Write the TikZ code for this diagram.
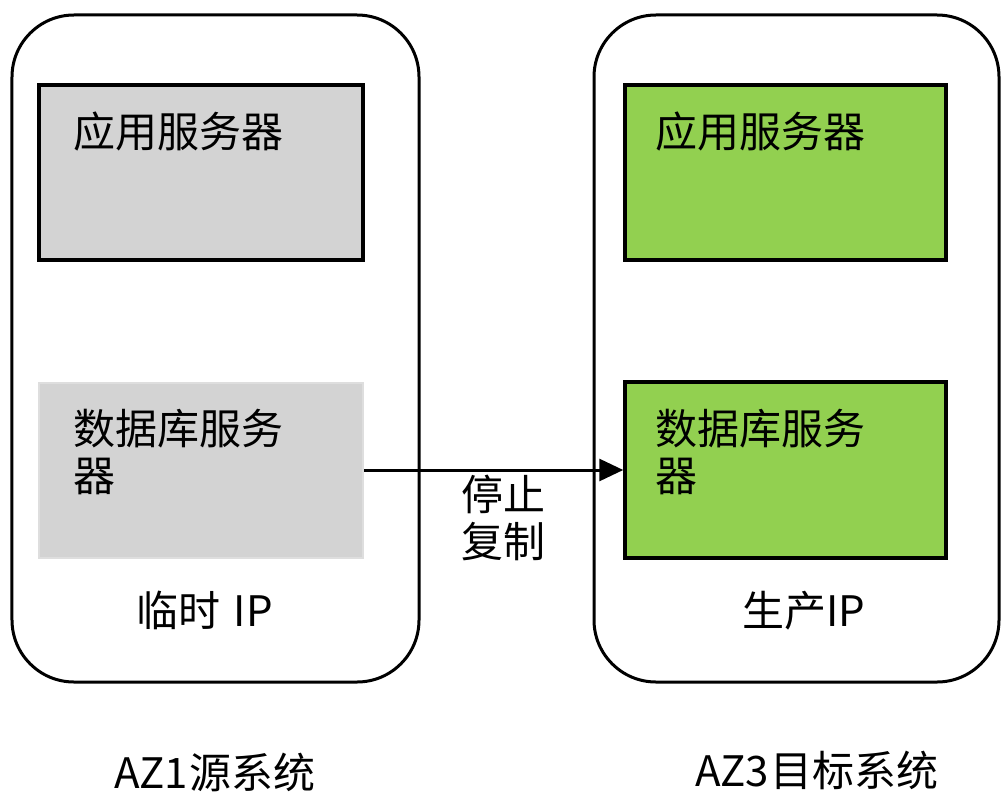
\documentclass[tikz,border=0pt]{standalone}
\usepackage{fontspec}
\setmainfont{Noto Sans CJK SC}
\usetikzlibrary{arrows.meta}
\definecolor{boxgray}{HTML}{D3D3D3}
\definecolor{dbgray}{HTML}{D3D3D3}
\definecolor{dbedge}{HTML}{DEDEDE}
\definecolor{boxgreen}{HTML}{92D050}
\tikzset{
  container/.style={draw=black, line width=3bp, rounded corners=62bp, fill=white, inner sep=0pt, minimum height=667bp},
  server/.style={draw=black, line width=3.5bp, inner sep=0pt, minimum width=324bp, minimum height=175bp},
  txt/.style={inner sep=0pt, outer sep=0pt, font=\fontsize{42bp}{47bp}\selectfont},
  flow/.style={draw=black, line width=3bp, -{Triangle[length=24bp,width=22bp]}}
}
\begin{document}
\begin{tikzpicture}[x=1bp,y=-1bp]
\useasboundingbox (0,0) rectangle (1001,792);
% containers
\node[container, minimum width=407bp] (az1) at (215.5,348.5) {};
\node[container, minimum width=405bp] (az3) at (796.5,348.5) {};
% servers
\node[server, fill=boxgray] (lapp) at (201,172.5) {};
\node[server, fill=dbgray, draw=dbedge, line width=2bp] (ldb) at (201,470) {};
\node[server, fill=boxgreen, minimum width=321bp] (rapp) at (785.5,172.5) {};
\node[server, fill=boxgreen, minimum width=321bp, minimum height=176bp] (rdb) at (785.5,470) {};
% texts
\node[txt, anchor=base west] (lappt) at (73,147) {应用服务器};
\node[txt, anchor=base west, align=left] (ldbt) at (73,491) {数据库服务\\器};
\node[txt, anchor=base west] (rappt) at (655,147) {应用服务器};
\node[txt, anchor=base west, align=left] (rdbt) at (655,491) {数据库服务\\器};
\node[txt, anchor=base west] (lip) at (136,626) {临时\hspace{14bp}IP};
\node[txt, anchor=base west] (rip) at (742,626) {生产IP};
\node[txt, anchor=base west] (az1t) at (114,788) {AZ1\hspace{2bp}源系统};
\node[txt, anchor=base west] (az3t) at (695,786) {AZ3\hspace{2bp}目标系统};
% connector
\draw[flow] (ldb.east) -- (rdb.west);
\node[txt, align=center, anchor=center] (stop) at (503,518) {停止\\复制};
\end{tikzpicture}
\end{document}
